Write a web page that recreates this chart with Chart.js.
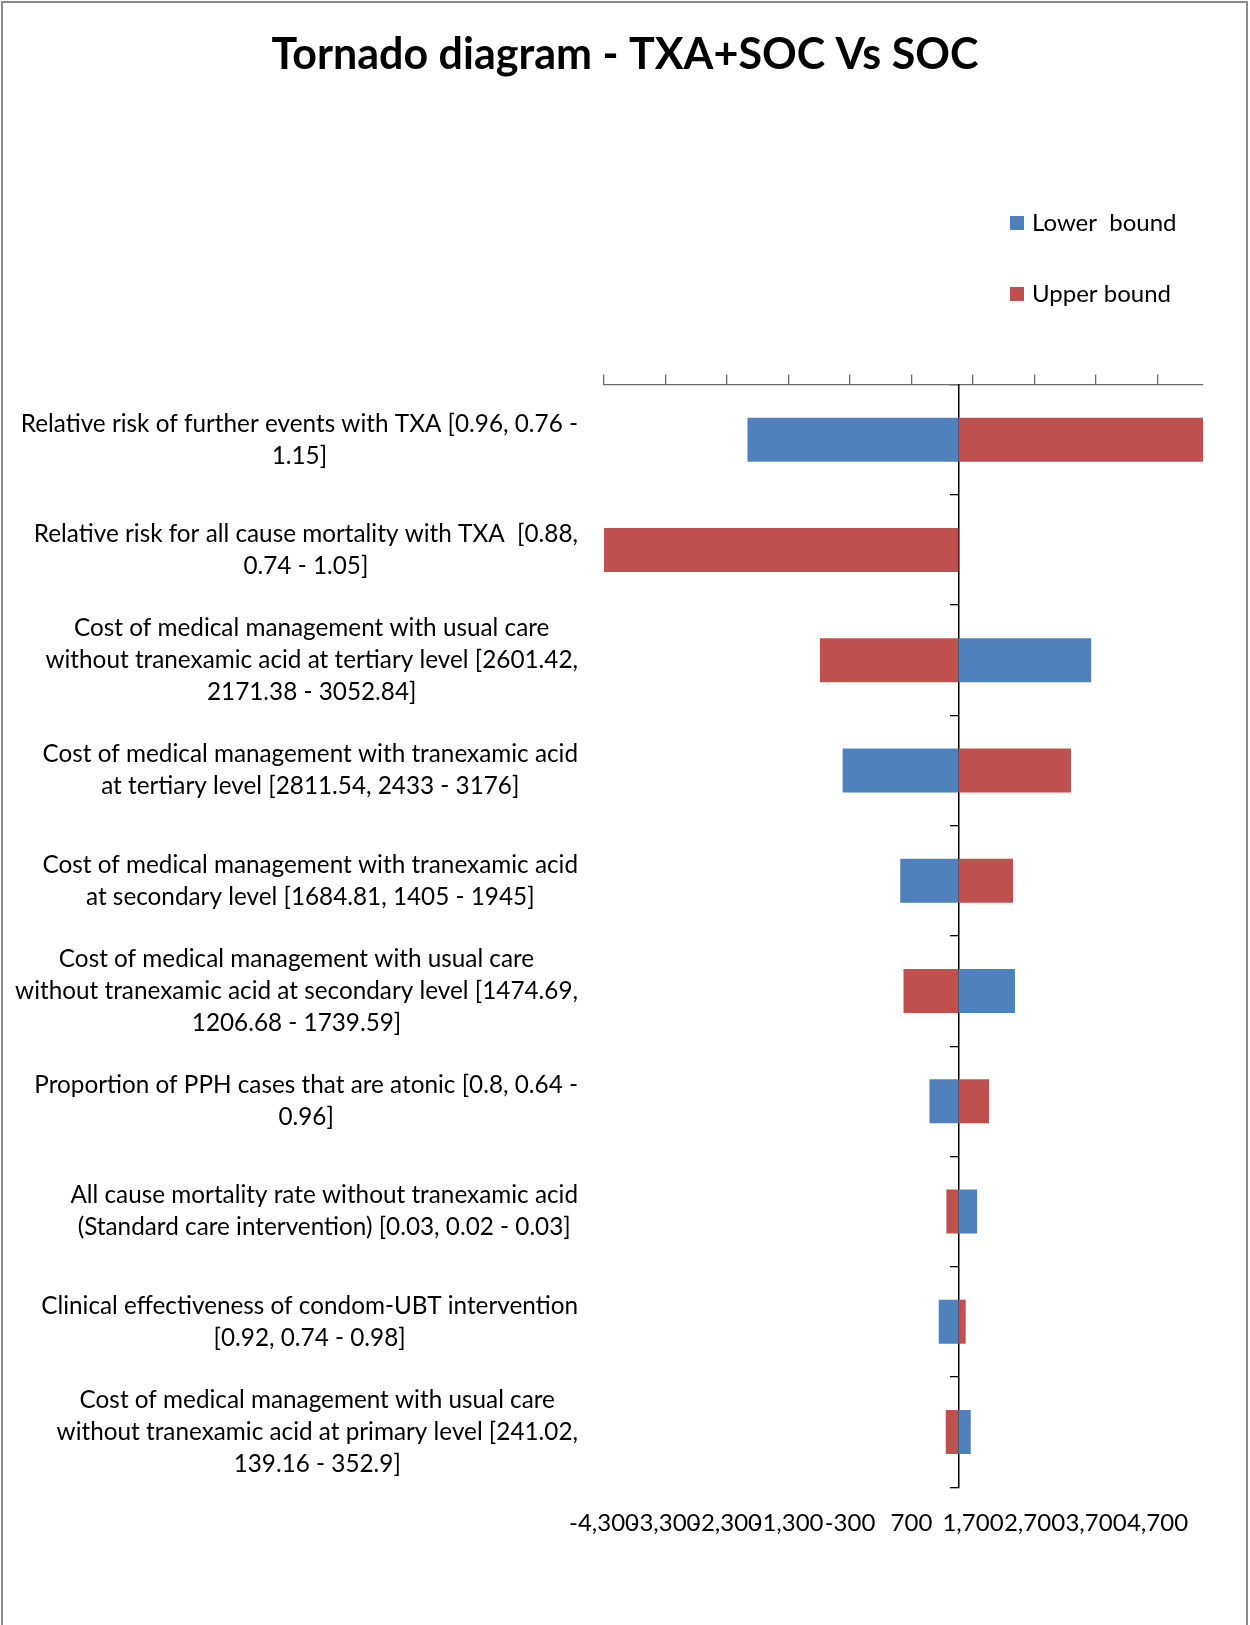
<!DOCTYPE html>
<html>
<head>
<meta charset="utf-8">
<script src="https://cdn.jsdelivr.net/npm/chart.js@4.4.1/dist/chart.umd.min.js"></script>
<style>
  body { margin: 0; background: #fff; }
  #wrap { position: relative; width: 1250px; height: 1625px; }
  #frame { position: absolute; left: 1px; top: 1px; width: 1247px; height: 1640px;
           border: 2px solid #8c8c8c; box-sizing: border-box; pointer-events: none; }
</style>
</head>
<body>
<div id="wrap">
  <canvas id="chart" width="1250" height="1625"></canvas>
  <div id="frame"></div>
</div>
<script>
// ICER base case (where the vertical axis crosses)
const baseValue = 1463;

const categories = [
  ["Relative risk of further events with TXA [0.96, 0.76 -", "1.15]"],
  ["Relative risk for all cause mortality with TXA  [0.88,", "0.74 - 1.05]"],
  ["Cost of medical management with usual care", "without tranexamic acid at tertiary level [2601.42,", "2171.38 - 3052.84]"],
  ["Cost of medical management with tranexamic acid", "at tertiary level [2811.54, 2433 - 3176]"],
  ["Cost of medical management with tranexamic acid", "at secondary level [1684.81, 1405 - 1945]"],
  ["Cost of medical management with usual care", "without tranexamic acid at secondary level [1474.69,", "1206.68 - 1739.59]"],
  ["Proportion of PPH cases that are atonic [0.8, 0.64 -", "0.96]"],
  ["All cause mortality rate without tranexamic acid", "(Standard care intervention) [0.03, 0.02 - 0.03]"],
  ["Clinical effectiveness of condom-UBT intervention", "[0.92, 0.74 - 0.98]"],
  ["Cost of medical management with usual care", "without tranexamic acid at primary level [241.02,", "139.16 - 352.9]"]
];

const lowerBound = [-1967, 1463, 3622, -420, 517, 2383, 992, 1767, 1143, 1663];
const upperBound = [5440, -4300, -789, 3293, 2351, 570, 1961, 1268, 1581, 1257];

const tickValues = [-4300, -3300, -2300, -1300, -300, 700, 1700, 2700, 3700, 4700];
const tickLabels = ["-4,300", "-3,300", "-2,300", "-1,300", "-300", "700", "1,700", "2,700", "3,700", "4,700"];

const xMin = -4300;
const xMax = 5440;

const setTicks = (scale) => {
  scale.ticks = tickValues.map((v) => ({ value: v }));
};

// category labels: each block right aligned, lines centred in the block
const catLabels = {
  id: "catLabels",
  afterDraw(chart) {
    const ctx = chart.ctx;
    const y = chart.scales.y;
    const right = chart.chartArea.left - 26;
    ctx.save();
    ctx.font = "24.3px Lato";
    ctx.fillStyle = "#000";
    ctx.textAlign = "center";
    ctx.textBaseline = "middle";
    chart.data.labels.forEach((lines, i) => {
      const w = Math.max(...lines.map((l) => ctx.measureText(l).width));
      const cx = right - w / 2;
      const cy = y.getPixelForValue(i);
      lines.forEach((l, j) => {
        ctx.fillText(l, cx, cy + (j - (lines.length - 1) / 2) * 32);
      });
    });
    ctx.restore();
  },
};

// legend stacked on the right, above the plot
const sideLegend = {
  id: "sideLegend",
  afterDraw(chart) {
    const ctx = chart.ctx;
    ctx.save();
    ctx.font = "24px Lato";
    ctx.textBaseline = "middle";
    ctx.textAlign = "left";
    chart.data.datasets.forEach((ds, i) => {
      const cy = 223 + i * 71;
      ctx.fillStyle = ds.backgroundColor;
      ctx.fillRect(1010, cy - 7, 14, 14);
      ctx.fillStyle = "#000";
      ctx.fillText(ds.label, 1032, cy);
    });
    ctx.restore();
  },
};

const ctx = document.getElementById("chart");
new Chart(ctx, {
  type: "bar",
  data: {
    labels: categories,
    datasets: [
      {
        label: "Lower  bound",
        data: lowerBound.map((v) => [baseValue, v]),
        backgroundColor: "#4F81BD",
        grouped: false,
        barPercentage: 0.5,
        categoryPercentage: 0.8,
        borderSkipped: false,
      },
      {
        label: "Upper bound",
        data: upperBound.map((v) => [baseValue, v]),
        backgroundColor: "#C0504D",
        grouped: false,
        barPercentage: 0.5,
        categoryPercentage: 0.8,
        borderSkipped: false,
      },
    ],
  },
  options: {
    indexAxis: "y",
    responsive: false,
    animation: false,
    layout: {
      padding: { left: 0, right: 0, top: 0, bottom: 65 },
    },
    plugins: {
      legend: { display: false },
      tooltip: { enabled: false },
      title: {
        display: true,
        text: "Tornado diagram - TXA+SOC Vs SOC",
        color: "#000",
        font: { family: "Lato", size: 43, weight: "bold" },
        padding: { top: 29, bottom: 294 },
      },
    },
    scales: {
      x: {
        type: "linear",
        position: "top",
        min: xMin,
        max: xMax,
        afterBuildTicks: setTicks,
        grid: {
          drawOnChartArea: false,
          drawTicks: true,
          tickLength: 10,
          color: "#6b6b6b",
          lineWidth: 1.3,
        },
        border: { display: true, color: "#6b6b6b", width: 1.3 },
        ticks: { display: false },
      },
      x2: {
        type: "linear",
        position: "bottom",
        min: xMin,
        max: xMax,
        afterBuildTicks: setTicks,
        grid: { display: false, drawTicks: false, tickLength: 0 },
        border: { display: false },
        ticks: {
          autoSkip: false,
          maxRotation: 0,
          padding: 22,
          color: "#000",
          font: { family: "Lato", size: 24 },
          callback: (v, i) => tickLabels[i],
        },
      },
      y: {
        type: "category",
        position: { x: baseValue },
        offset: true,
        grid: {
          offset: true,
          drawOnChartArea: false,
          drawTicks: true,
          tickLength: 8,
          color: "#000",
          lineWidth: 1.3,
        },
        border: { display: true, color: "#000", width: 1.5 },
        ticks: { display: false },
      },
      // spacers that hold the room for the label column and the right margin
      yLeft: {
        type: "category",
        position: "left",
        offset: true,
        grid: { display: false, drawTicks: false },
        border: { display: false },
        ticks: { display: false },
        afterFit: (s) => { s.width = 604; },
      },
      yRight: {
        type: "category",
        position: "right",
        offset: true,
        grid: { display: false, drawTicks: false },
        border: { display: false },
        ticks: { display: false },
        afterFit: (s) => { s.width = 47; },
      },
    },
  },
  plugins: [catLabels, sideLegend],
});
</script>
</body>
</html>
